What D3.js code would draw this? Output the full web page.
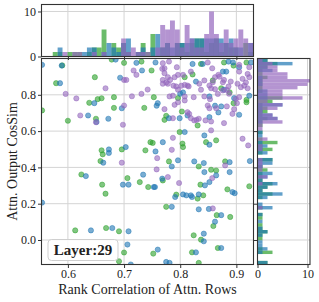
<!DOCTYPE html>
<html>
<head>
<meta charset="utf-8">
<script src="https://cdn.jsdelivr.net/npm/d3@7"></script>
<style>
  html, body { margin: 0; padding: 0; background: #fff; }
  svg text { font-family: "Liberation Serif", "Times New Roman", serif; fill: #222; }
</style>
</head>
<body>
<div id="vis"></div>
<script>
// scatter points [rank correlation, cos sim] per series
const greenPts = [[0.579,0.864],[0.590,0.962],[0.554,0.714],[0.600,0.657],[0.648,0.897],[0.638,0.756],[0.653,0.776],[0.660,0.781],[0.650,0.668],[0.682,0.787],[0.682,0.728],[0.700,0.976],[0.678,0.994],[0.749,0.934],[0.736,0.728],[0.753,0.787],[0.660,0.494],[0.662,0.472],[0.658,0.435],[0.696,0.499],[0.738,0.494],[0.747,0.539],[0.751,0.535],
  [0.624,0.361],[0.661,0.305],[0.667,0.255],[0.706,0.341],[0.728,0.319],[0.743,0.292],[0.613,0.053],[0.668,0.066],[0.691,0.048],[0.700,-0.069],[0.691,-0.117],[0.752,-0.075],
  [0.769,0.328],[0.836,0.305],[0.793,0.250],[0.831,0.228],[0.841,0.246],[0.884,0.279],[0.923,0.296],[0.775,0.183],[0.865,0.137],[0.889,0.127],[0.859,0.077],[0.824,0.026],[0.837,0.002],[0.867,-0.044],[0.821,-0.068],[0.833,-0.126],
  [0.731,0.983],[0.837,0.970],[0.878,0.978],[0.918,0.978],[0.895,0.961],[0.808,0.897],[0.796,0.782],[0.858,0.879],[0.873,0.836],[0.888,0.814],[0.918,0.772],[0.895,0.754],[0.918,0.759],[0.775,0.684],[0.772,0.662],[0.803,0.708],[0.831,0.631],[0.799,0.595],[0.804,0.531],[0.805,0.512],[0.846,0.539],[0.864,0.549],[0.780,0.433],[0.833,0.405],[0.855,0.387],[0.864,0.383],[0.880,0.433],[0.822,0.912]];

const bluePts = [[0.554,0.965],[0.589,0.961],[0.586,0.864],[0.636,0.686],[0.647,0.754],[0.651,0.650],[0.672,0.668],[0.693,0.894],[0.696,0.726],[0.685,0.994],[0.722,0.976],[0.732,0.934],[0.673,0.499],[0.673,0.480],[0.663,0.426],[0.703,0.512],[0.756,0.488],
  [0.632,0.352],[0.698,0.305],[0.708,0.305],[0.734,0.360],[0.753,0.292],[0.554,0.206],[0.641,0.053],[0.679,0.066],[0.708,0.048],[0.706,-0.025],[0.712,-0.135],[0.760,-0.053],
  [0.755,0.292],[0.844,0.301],[0.852,0.319],[0.864,0.356],[0.791,0.237],[0.805,0.251],[0.811,0.246],[0.819,0.246],[0.821,0.237],[0.833,0.251],[0.893,0.264],[0.897,0.258],[0.785,0.183],[0.833,0.169],[0.851,0.171],[0.873,0.137],[0.862,0.101],[0.842,0.035],[0.842,-0.007],[0.873,-0.044],[0.828,-0.068],[0.775,-0.121],[0.781,-0.126],
  [0.756,0.978],[0.822,0.970],[0.840,0.970],[0.886,0.983],[0.894,0.978],[0.926,0.978],[0.905,0.952],[0.876,0.928],[0.882,0.928],[0.828,0.873],[0.800,0.806],[0.805,0.813],[0.878,0.828],[0.896,0.782],[0.923,0.795],[0.758,0.740],[0.760,0.754],[0.780,0.671],[0.799,0.671],[0.852,0.677],[0.862,0.740],[0.873,0.736],[0.868,0.703],[0.905,0.690],[0.813,0.686],[0.808,0.595],[0.843,0.576],[0.769,0.539],[0.852,0.525],[0.785,0.405],[0.796,0.439],[0.825,0.433],[0.842,0.424],[0.888,0.429],[0.924,0.435],[0.768,0.338],[0.843,0.374],[0.888,0.374],[0.852,0.791]];

const purplePts = [[0.596,0.805],[0.615,0.780],[0.622,0.686],[0.667,0.836],[0.650,0.649],[0.700,0.882],[0.704,0.882],[0.700,0.741],[0.698,0.635],[0.717,0.934],[0.722,0.910],[0.742,0.829],[0.714,0.792],[0.696,0.426],[0.759,0.451],[0.758,0.389],[0.778,0.347],[0.798,0.314],[0.857,0.341],[0.858,0.174],
  [0.769,0.974],[0.780,0.983],[0.849,0.978],[0.857,0.946],[0.905,0.965],[0.731,0.805],[0.772,0.919],[0.778,0.897],[0.769,0.882],[0.775,0.868],[0.782,0.882],[0.772,0.946],[0.794,0.952],[0.805,0.910],[0.819,0.928],[0.788,0.850],[0.793,0.846],[0.802,0.850],[0.815,0.846],[0.796,0.828],[0.787,0.795],[0.808,0.791],[0.781,0.791],[0.837,0.828],[0.843,0.791],[0.853,0.776],[0.855,0.836],[0.862,0.897],[0.868,0.910],[0.878,0.882],[0.862,0.831],[0.886,0.846],[0.890,0.873],[0.905,0.928],[0.917,0.868],[0.908,0.842],[0.920,0.836],[0.923,0.897],[0.887,0.806],[0.905,0.787],[0.901,0.754],[0.896,0.721],[0.772,0.721],[0.787,0.671],[0.790,0.745],[0.816,0.695],[0.819,0.671],[0.829,0.662],[0.845,0.659],[0.855,0.653],[0.852,0.726],[0.864,0.726],[0.883,0.736],[0.878,0.644],[0.855,0.604],[0.787,0.563],[0.785,0.497],[0.911,0.558],[0.921,0.521],[0.880,0.411],[0.768,0.943],[0.769,0.861],[0.778,0.861],[0.813,0.704],[0.833,0.668],[0.843,0.879],[0.834,0.861],[0.852,0.851],[0.858,0.869],[0.876,0.869],[0.883,0.827],[0.876,0.824],[0.867,0.805],[0.911,0.888],[0.902,0.861],[0.914,0.851],[0.920,0.915],[0.923,0.952],[0.870,0.900],[0.824,0.787],[0.808,0.769],[0.796,0.759],[0.849,0.741],[0.893,0.695],[0.899,0.778],[0.790,0.897],[0.796,0.910],[0.813,0.851],[0.825,0.659],[0.808,0.855]];

const seriesNames = ["green", "blue", "purple"];
const seriesColors = ["#2ca02c", "#1f77b4", "#9467bd"];
const xTicks = [0.6, 0.7, 0.8, 0.9];
const yTicks = [0.0, 0.2, 0.4, 0.6, 0.8];
const countTicks = [0, 10];
const xLabel = "Rank Correlation of Attn. Rows";
const yLabel = "Attn. Output CosSim";
const layerText = "Layer:29";

const W = 319, H = 302;
// panel boxes
const main = { left: 41.5, right: 253.5, top: 58.5, bottom: 264.5 };
const topH = { top: 4.5, bottom: 56.5 };
const sideH = { left: 257.5, right: 310 };

const svg = d3.select("#vis").append("svg")
    .attr("width", W).attr("height", H)
    .attr("viewBox", [0, 0, W, H]);

const x = d3.scaleLinear().domain([0.553, 0.9305]).range([main.left, main.right]);
const y = d3.scaleLinear().domain([-0.135, 1.0]).range([main.bottom, main.top]);
const hy = d3.scaleLinear().domain([0, 11.55]).range([topH.bottom, topH.top]);   // top histogram counts
const hx = d3.scaleLinear().domain([0, 10.5]).range([sideH.left, sideH.right]);  // side histogram counts

const allSeries = [greenPts, bluePts, purplePts].map((pts, i) => ({ name: seriesNames[i], color: seriesColors[i], pts }));

const defs = svg.append("defs");
defs.append("clipPath").attr("id", "clipMain").append("rect")
    .attr("x", main.left).attr("y", main.top).attr("width", main.right - main.left).attr("height", main.bottom - main.top);
defs.append("clipPath").attr("id", "clipTop").append("rect")
    .attr("x", main.left).attr("y", topH.top).attr("width", main.right - main.left).attr("height", topH.bottom - topH.top);
defs.append("clipPath").attr("id", "clipSide").append("rect")
    .attr("x", sideH.left).attr("y", main.top).attr("width", sideH.right - sideH.left).attr("height", main.bottom - main.top);

const gridColor = "#d4d4d4";

// ---- grids
const grid = svg.append("g").attr("stroke", gridColor).attr("stroke-width", 1);
xTicks.forEach(t => {
    grid.append("line").attr("x1", x(t)).attr("x2", x(t)).attr("y1", main.top).attr("y2", main.bottom);
    grid.append("line").attr("x1", x(t)).attr("x2", x(t)).attr("y1", topH.top).attr("y2", topH.bottom);
});
yTicks.forEach(t => {
    grid.append("line").attr("x1", main.left).attr("x2", main.right).attr("y1", y(t)).attr("y2", y(t));
    grid.append("line").attr("x1", sideH.left).attr("x2", sideH.right).attr("y1", y(t)).attr("y2", y(t));
});
countTicks.forEach(t => {
    grid.append("line").attr("x1", main.left).attr("x2", main.right).attr("y1", hy(t)).attr("y2", hy(t));
    grid.append("line").attr("x1", hx(t)).attr("x2", hx(t)).attr("y1", main.top).attr("y2", main.bottom);
});

// ---- histograms (binned from the scatter values)
const binX = d3.bin().domain([0.5556, 0.9352]).thresholds(d3.range(0.5556, 0.9352, 0.0087));
const binY = d3.bin().domain([-0.134, 1.0]).thresholds(d3.range(-0.134, 1.0, 0.0189));

const topG = svg.append("g").attr("clip-path", "url(#clipTop)");
const sideG = svg.append("g").attr("clip-path", "url(#clipSide)");

allSeries.forEach(s => {
    const bx = binX(s.pts.map(p => p[0])).filter(b => b.length > 0);
    topG.append("g").selectAll("rect").data(bx).join("rect")
        .attr("x", b => x(b.x0))
        .attr("width", b => x(b.x1) - x(b.x0))
        .attr("y", b => hy(b.length))
        .attr("height", b => hy(0) - hy(b.length))
        .attr("fill", s.color).attr("fill-opacity", 0.7);

    const by = binY(s.pts.map(p => p[1])).filter(b => b.length > 0);
    sideG.append("g").selectAll("rect").data(by).join("rect")
        .attr("x", hx(0))
        .attr("width", b => hx(b.length) - hx(0))
        .attr("y", b => y(b.x1))
        .attr("height", b => y(b.x0) - y(b.x1))
        .attr("fill", s.color).attr("fill-opacity", 0.7);
});

// ---- scatter
const dots = svg.append("g").attr("clip-path", "url(#clipMain)");
allSeries.forEach(s => {
    dots.append("g").selectAll("circle").data(s.pts).join("circle")
        .attr("cx", d => x(d[0]))
        .attr("cy", d => y(d[1]))
        .attr("r", 2.6)
        .attr("fill", s.color).attr("fill-opacity", 0.6)
        .attr("stroke", s.color).attr("stroke-opacity", 0.6).attr("stroke-width", 0.8);
});

// ---- axes
const spine = "#333";
function frame(l, r, t, b) {
    svg.append("rect").attr("x", l).attr("y", t).attr("width", r - l).attr("height", b - t)
        .attr("fill", "none").attr("stroke", spine).attr("stroke-width", 1.1);
}
frame(main.left, main.right, main.top, main.bottom);
frame(main.left, main.right, topH.top, topH.bottom);
frame(sideH.left, sideH.right, main.top, main.bottom);

// scatter x axis
svg.append("g").attr("transform", `translate(0,${main.bottom})`)
    .call(d3.axisBottom(x).tickValues(xTicks).tickSize(3.5).tickPadding(1.5).tickFormat(d3.format(".1f")))
    .call(g => g.select(".domain").remove());
// scatter y axis
svg.append("g").attr("transform", `translate(${main.left},0)`)
    .call(d3.axisLeft(y).tickValues(yTicks).tickSize(3.5).tickPadding(2).tickFormat(d3.format(".1f")))
    .call(g => g.select(".domain").remove());
// top histogram: count axis + x tick marks without labels
svg.append("g").attr("transform", `translate(${main.left},0)`)
    .call(d3.axisLeft(hy).tickValues(countTicks).tickSize(3.5).tickPadding(2))
    .call(g => g.select(".domain").remove());
svg.append("g").attr("transform", `translate(0,${topH.bottom})`)
    .call(d3.axisBottom(x).tickValues(xTicks).tickSize(3.5).tickFormat(""))
    .call(g => g.select(".domain").remove());
// side histogram: count axis + y tick marks without labels
svg.append("g").attr("transform", `translate(0,${main.bottom})`)
    .call(d3.axisBottom(hx).tickValues(countTicks).tickSize(3.5).tickPadding(1.5))
    .call(g => g.select(".domain").remove());
svg.append("g").attr("transform", `translate(${sideH.left},0)`)
    .call(d3.axisLeft(y).tickValues(yTicks).tickSize(3.5).tickFormat(""))
    .call(g => g.select(".domain").remove());

svg.selectAll(".tick line").attr("stroke", spine);
svg.selectAll(".tick text")
    .style("font-family", "'Liberation Serif', serif")
    .style("font-size", "12px")
    .attr("fill", "#333");

// axis titles
svg.append("text")
    .attr("x", (main.left + main.right) / 2).attr("y", 294)
    .attr("text-anchor", "middle")
    .style("font-size", "14px")
    .text(xLabel);
svg.append("text")
    .attr("transform", `translate(16.5,${(main.top + main.bottom) / 2}) rotate(-90)`)
    .attr("text-anchor", "middle")
    .style("font-size", "14px")
    .text(yLabel);

// layer badge
svg.append("rect")
    .attr("x", 48).attr("y", 239.5).attr("width", 70).attr("height", 21).attr("rx", 3.5)
    .attr("fill", "#fff").attr("fill-opacity", 0.85)
    .attr("stroke", "#cfcfcf").attr("stroke-width", 1);
svg.append("text")
    .attr("x", 83).attr("y", 255)
    .attr("text-anchor", "middle")
    .style("font-size", "15px").style("font-weight", "bold")
    .text(layerText);
</script>
</body>
</html>
